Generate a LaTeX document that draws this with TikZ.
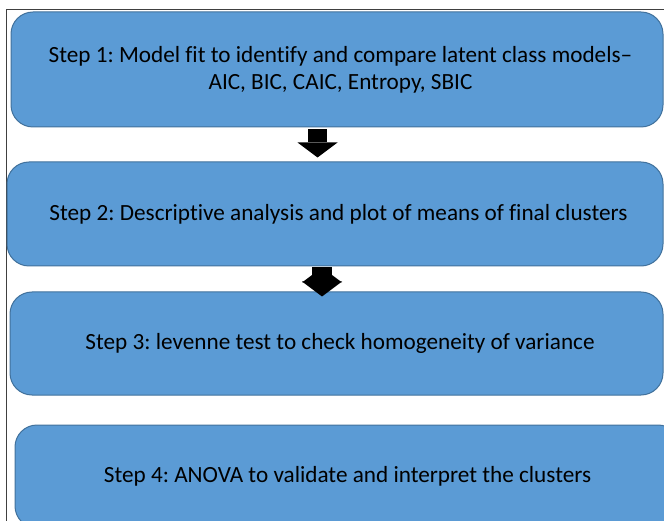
\documentclass[tikz,border=0pt]{standalone}
\usepackage{fontspec}
\setmainfont[Ligatures=NoCommon]{Carlito}
\usepackage{tikz}
\usetikzlibrary{arrows.meta}

\definecolor{stepfill}{HTML}{5B9BD5}
\definecolor{stepedge}{HTML}{41719C}
\definecolor{frameline}{HTML}{404040}

\tikzset{
  stepbox/.style={draw=stepedge, fill=stepfill, line width=1pt, rounded corners=22pt,
    align=center, inner sep=0pt, font=\fontsize{23.2}{27}\selectfont, text=black},
  stepflow/.style={draw=black, line width=19.5pt, line cap=butt,
    -{Triangle[width=40pt,length=15pt,line width=0pt]}}
}

\begin{document}
\frenchspacing
\begin{tikzpicture}[x=1pt, y=-1pt]
  \useasboundingbox (0,0) rectangle (664,521);
  \draw[frameline, line width=1pt] (6,521) -- (6,10) -- (664,10);

  \node[stepbox, minimum width=652pt, minimum height=115pt] (s1) at (337,69.5)
    {\hspace*{7pt}Step 1: Model fit to identify and compare latent class models--\\\hspace*{7pt}AIC, BIC, CAIC, Entropy, SBIC};
  \node[stepbox, minimum width=656pt, minimum height=104pt] (s2) at (335,214)
    {\hspace*{7pt}Step 2: Descriptive analysis and plot of means of final clusters};
  \node[stepbox, minimum width=653pt, minimum height=103pt] (s3) at (336.5,343.5)
    {\hspace*{7pt}Step 3: levenne test to check homogeneity of variance};
  \node[stepbox, minimum width=665pt, minimum height=103pt] (s4) at (347.5,476.5)
    {Step 4: ANOVA to validate and interpret the clusters};

  \path[stepflow]
    ([xshift=-19.5pt,yshift=-2pt]s1.south) edge ([xshift=-17.5pt,yshift=4pt]s2.north)
    ([xshift=-13pt,yshift=-1pt]s2.south) edge ([xshift=-14.5pt,yshift=-5pt]s3.north);
\end{tikzpicture}
\end{document}
